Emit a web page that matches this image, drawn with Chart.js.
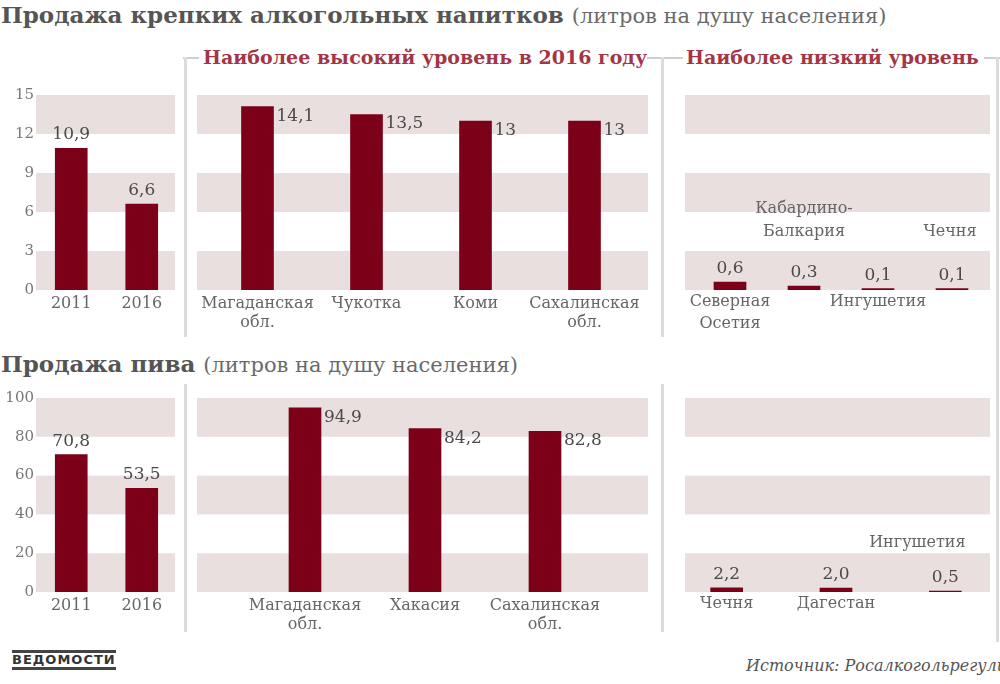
<!DOCTYPE html>
<html><head><meta charset="utf-8">
<script src="https://cdn.jsdelivr.net/npm/chart.js@4.4.1/dist/chart.umd.min.js"></script>
<style>
html,body{margin:0;padding:0;background:#fff;width:1000px;height:684px;overflow:hidden;position:relative;font-family:"DejaVu Serif","Liberation Serif",serif;}
.abs{position:absolute;}
.t1{left:1px;top:1px;font-size:23px;font-weight:bold;color:#555;white-space:nowrap;}
.t1 span{font-weight:normal;font-size:21px;color:#6a6a6a;}
.red{font-size:19px;font-weight:bold;color:#a43547;white-space:nowrap;}
.vl{background:#dcdcdc;width:3px;}
.hl{background:#cfcfcf;height:2px;}
.box{position:absolute;}
</style></head>
<body>
<div class="abs t1">Продажа крепких алкогольных напитков <span>(литров на душу населения)</span></div>
<div class="abs red" style="left:203px;top:46px;">Наиболее высокий уровень в 2016 году</div>
<div class="abs red" style="left:686px;top:46px;">Наиболее низкий уровень</div>
<div class="abs hl" style="left:183px;top:57px;width:16px;"></div>
<div class="abs hl" style="left:647px;top:57px;width:36px;"></div>
<div class="abs hl" style="left:984px;top:57px;width:16px;"></div>
<div class="abs vl" style="left:184px;top:57px;height:280px;"></div>
<div class="abs vl" style="left:661px;top:57px;height:280px;"></div>
<div class="abs vl" style="left:996px;top:57px;height:585px;"></div>
<div class="abs t1" style="top:350px;">Продажа пива <span>(литров на душу населения)</span></div>
<div class="abs vl" style="left:184px;top:384px;height:248px;"></div>
<div class="abs vl" style="left:661px;top:384px;height:248px;"></div>
<div class="abs" style="left:12px;top:650px;font-family:'DejaVu Sans',sans-serif;font-weight:bold;font-size:13px;color:#333;letter-spacing:1px;border-top:3px solid #444;border-bottom:3px solid #444;line-height:14px;">ВЕДОМОСТИ</div>
<div class="abs" style="left:746px;top:656px;font-size:16px;font-style:italic;color:#555;white-space:nowrap;">Источник: Росалкогольрегулирование</div>

<div class="box" style="left:0;top:60px;width:185px;height:280px;"><canvas id="c1"></canvas></div>
<div class="box" style="left:187px;top:60px;width:473px;height:280px;"><canvas id="c2"></canvas></div>
<div class="box" style="left:664px;top:60px;width:336px;height:280px;"><canvas id="c3"></canvas></div>
<div class="box" style="left:0;top:370px;width:185px;height:272px;"><canvas id="c4"></canvas></div>
<div class="box" style="left:187px;top:370px;width:473px;height:272px;"><canvas id="c5"></canvas></div>
<div class="box" style="left:664px;top:370px;width:336px;height:272px;"><canvas id="c6"></canvas></div>

<script>
// ---- Data ----
const strongYears = ["2011", "2016"];
const strongYearValues = [10.9, 6.6];
const strongHighRegions = [["Магаданская", "обл."], "Чукотка", "Коми", ["Сахалинская", "обл."]];
const strongHighValues = [14.1, 13.5, 13, 13];
const strongLowRegions = [["Северная", "Осетия"], ["Кабардино-", "Балкария"], "Ингушетия", "Чечня"];
const strongLowValues = [0.6, 0.3, 0.1, 0.1];
const strongTicks = [0, 3, 6, 9, 12, 15];

const beerYears = ["2011", "2016"];
const beerYearValues = [70.8, 53.5];
const beerHighRegions = [["Магаданская", "обл."], "Хакасия", ["Сахалинская", "обл."]];
const beerHighValues = [94.9, 84.2, 82.8];
const beerLowRegions = ["Чечня", "Дагестан", "Ингушетия"];
const beerLowValues = [2.2, 2.0, 0.5];
const beerTicks = [0, 20, 40, 60, 80, 100];

// ---- Styling ----
const FONT = '"DejaVu Serif","Liberation Serif",serif';
Chart.defaults.font.family = FONT;
const BAR = '#7c0017';
const BAND = '#e9dfdf';
const TXT = '#666';

function fmt(v){
  if (Number.isInteger(v) && v >= 10) return String(v);
  return v.toFixed(1).replace('.', ',');
}

const bandPlugin = {
  id: 'bands',
  beforeDatasetsDraw(chart, args, o){
    const y = chart.scales.y, ctx = chart.ctx;
    const t = o.ticks;
    ctx.save();
    ctx.fillStyle = BAND;
    for (let i = 0; i < t.length - 1; i += 2){
      const y1 = y.getPixelForValue(t[i+1]), y0 = y.getPixelForValue(t[i]);
      ctx.fillRect(o.left, y1, chart.width - o.right - o.left, y0 - y1);
    }
    ctx.restore();
  }
};

const valuePlugin = {
  id: 'values',
  afterDatasetsDraw(chart, args, o){
    const ctx = chart.ctx, meta = chart.getDatasetMeta(0);
    const data = chart.data.datasets[0].data;
    const xs = chart.scales.x;
    ctx.save();
    ctx.font = '17px ' + FONT;
    ctx.fillStyle = '#4a4a4a';
    meta.data.forEach((bar, i) => {
      const v = data[i], s = fmt(v);
      if (o.mode === 'right'){
        ctx.textAlign = 'left'; ctx.textBaseline = 'top';
        ctx.fillText(s, bar.x + bar.width/2 + 3, bar.y + 1);
      } else {
        ctx.textAlign = 'center'; ctx.textBaseline = 'bottom';
        ctx.fillText(s, bar.x, bar.y - 5);
      }
    });
    if (o.cats){
      ctx.font = '16px ' + FONT;
      ctx.fillStyle = TXT;
      const base = chart.scales.y.getPixelForValue(0);
      chart.data.labels.forEach((lab, i) => {
        const lines = Array.isArray(lab) ? lab : [lab];
        const x = xs.getPixelForValue(i) + (o.shift ? o.shift[i] : 0);
        ctx.textAlign = 'center';
        if (o.cats[i] === 'below'){
          ctx.textBaseline = 'top';
          lines.forEach((l, k) => ctx.fillText(l, x, base + 4 + k*22));
        } else {
          ctx.textBaseline = 'bottom';
          const top = base - o.above;
          lines.forEach((l, k) => ctx.fillText(l, x, top - (lines.length-1-k)*23));
        }
      });
    }
    ctx.restore();
  }
};

function make(id, labels, values, ticks, cfg){
  const max = ticks[ticks.length-1];
  const y = {
    display: cfg.showY, min: 0, max,
    afterBuildTicks(s){ s.ticks = ticks.map(v => ({ value: v })); },
    grid: { display: false, drawTicks: false }, border: { display: false },
    ticks: { color: '#777', font: { size: 15 }, padding: 2 }
  };
  if (cfg.showY) y.afterFit = function(s){ s.width = 36; };
  return new Chart(document.getElementById(id), {
    type: 'bar',
    data: { labels, datasets: [{ data: values, backgroundColor: BAR, barThickness: 32 }] },
    options: {
      responsive: true, maintainAspectRatio: false, animation: false,
      layout: { padding: cfg.padding },
      plugins: {
        legend: { display: false }, tooltip: { enabled: false },
        bands: { ticks, left: cfg.bandLeft, right: cfg.bandRight },
        values: { mode: cfg.mode, cats: cfg.cats, above: cfg.above, shift: cfg.shift }
      },
      scales: {
        x: {
          grid: { display: false, drawTicks: false }, border: { display: false },
          ticks: { display: true, color: TXT, font: { size: 16 }, padding: 4, maxRotation: 0, autoSkip: false,
                   callback: cfg.cats ? (() => '') : function(v){ return this.getLabelForValue(v); } },
          afterFit(s){ s.height = 50; }
        },
        y
      }
    },
    plugins: [bandPlugin, valuePlugin]
  });
}

make('c1', strongYears, strongYearValues, strongTicks,
  { padding: { top: 35, right: 8, left: 0, bottom: 0 }, bandLeft: 36, bandRight: 10, mode: 'top', showY: true });
make('c2', strongHighRegions, strongHighValues, strongTicks,
  { padding: { top: 35, right: 21, left: 16, bottom: 0 }, bandLeft: 10, bandRight: 12, mode: 'right', showY: false });
make('c3', strongLowRegions, strongLowValues, strongTicks,
  { padding: { top: 35, right: 11, left: 29, bottom: 0 }, bandLeft: 21, bandRight: 10, mode: 'top', showY: false,
    cats: ['below', 'above', 'below', 'above'], above: 50, shift: [0, 0, 0, -2] });
make('c4', beerYears, beerYearValues, beerTicks,
  { padding: { top: 28, right: 8, left: 0, bottom: 0 }, bandLeft: 36, bandRight: 10, mode: 'top', showY: true });
make('c5', beerHighRegions, beerHighValues, beerTicks,
  { padding: { top: 28, right: 55, left: 58, bottom: 0 }, bandLeft: 10, bandRight: 12, mode: 'right', showY: false });
make('c6', beerLowRegions, beerLowValues, beerTicks,
  { padding: { top: 28, right: 0, left: 8, bottom: 0 }, bandLeft: 21, bandRight: 10, mode: 'top', showY: false,
    cats: ['below', 'below', 'above'], above: 41, shift: [0, 0, -28] });
</script>
</body></html>
